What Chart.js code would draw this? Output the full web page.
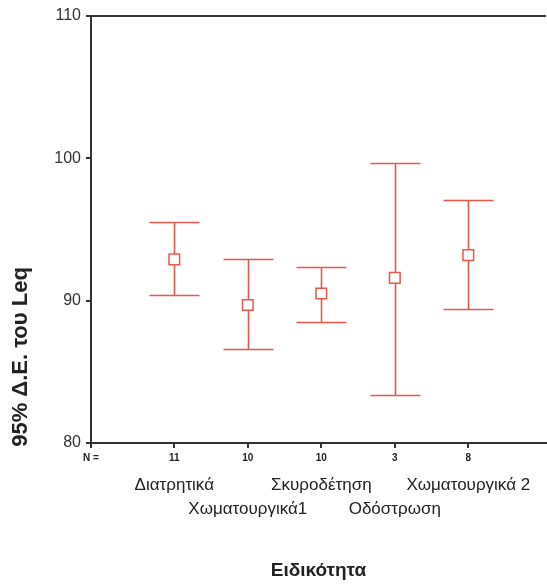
<!DOCTYPE html>
<html><head><meta charset="utf-8">
<script src="https://cdn.jsdelivr.net/npm/chart.js@4.4.1/dist/chart.umd.min.js"></script>
<style>html,body{margin:0;padding:0;background:#fff}canvas{display:block}</style>
</head><body>
<canvas id="c" width="547" height="584"></canvas>
<script>
const categories = ['Διατρητικά', 'Χωματουργικά1', 'Σκυροδέτηση', 'Οδόστρωση', 'Χωματουργικά 2'];
const nCounts = [11, 10, 10, 3, 8];
const means = [92.9, 89.7, 90.5, 91.6, 93.2];
const lower = [90.4, 86.6, 88.5, 83.4, 89.4];
const upper = [95.5, 92.9, 92.4, 99.7, 97.1];
const yTicks = [80, 90, 100, 110];
const yTitle = '95% Δ.Ε. του Leq';
const xTitle = 'Ειδικότητα';
const nLabel = 'N =';

const FONT = "'Liberation Sans', Arial, sans-serif";
const RED = '#e8594b';
const AXIS = '#333333';
const CAP = 25;

const errorBars = {
  id: 'errorBars',
  beforeDatasetsDraw(chart) {
    const { ctx, scales: { x, y } } = chart;
    ctx.save();
    ctx.strokeStyle = RED;
    ctx.lineWidth = 1.6;
    categories.forEach((c, i) => {
      const px = Math.round(x.getPixelForValue(i)) + 0.5;
      const pt = Math.round(y.getPixelForValue(upper[i])) + 0.5;
      const pb = Math.round(y.getPixelForValue(lower[i])) + 0.5;
      ctx.beginPath();
      ctx.moveTo(px, pt); ctx.lineTo(px, pb);
      ctx.moveTo(px - CAP, pt); ctx.lineTo(px + CAP, pt);
      ctx.moveTo(px - CAP, pb); ctx.lineTo(px + CAP, pb);
      ctx.stroke();
    });
    ctx.restore();
  }
};

const frame = {
  id: 'frame',
  afterDraw(chart) {
    const { ctx, chartArea: a } = chart;
    ctx.save();
    ctx.strokeStyle = AXIS;
    ctx.lineWidth = 2;
    ctx.beginPath();
    ctx.moveTo(a.left, a.top); ctx.lineTo(a.right, a.top);
    ctx.stroke();
    ctx.translate(21, 357);
    ctx.rotate(-Math.PI / 2);
    ctx.fillStyle = '#222';
    ctx.font = 'bold 22px ' + FONT;
    ctx.textAlign = 'center';
    ctx.textBaseline = 'middle';
    ctx.fillText(yTitle, 0, 0);
    ctx.restore();
  }
};

function noPad(s) { s.paddingLeft = 0; s.paddingRight = 0; }

new Chart(document.getElementById('c'), {
  type: 'scatter',
  data: {
    datasets: [{
      data: means.map((m, i) => ({ x: i, y: m })),
      pointStyle: 'rect',
      pointRadius: 7.5,
      pointHoverRadius: 7.5,
      pointBorderWidth: 1.5,
      borderColor: RED,
      backgroundColor: '#fff',
      showLine: false
    }]
  },
  options: {
    responsive: false,
    animation: false,
    events: [],
    layout: { autoPadding: false, padding: { top: 16, right: 1, left: 0, bottom: 0 } },
    plugins: { legend: { display: false }, tooltip: { enabled: false } },
    scales: {
      y: {
        min: 80, max: 110,
        afterFit(s) { s.width = 91; },
        afterBuildTicks(s) { s.ticks = yTicks.map(v => ({ value: v })); },
        ticks: { font: { family: FONT, size: 16 }, color: '#333', padding: 5 },
        grid: { drawOnChartArea: false, drawTicks: true, tickLength: 5, color: AXIS, lineWidth: 2 },
        border: { display: true, color: AXIS, width: 2 }
      },
      x: {
        type: 'linear', position: 'bottom', weight: 0,
        min: -1.133, max: 5.057,
        afterFit(s) { s.height = 20; noPad(s); },
        afterBuildTicks(s) { s.ticks = [{ value: s.min }].concat(categories.map((c, i) => ({ value: i }))); },
        ticks: {
          autoSkip: false, maxRotation: 0, padding: 4,
          font: { family: FONT, size: 10, weight: 'bold' }, color: '#222',
          callback(v) { return v < 0 ? nLabel : String(nCounts[Math.round(v)]); }
        },
        grid: { drawOnChartArea: false, drawTicks: true, tickLength: 5, color: AXIS, lineWidth: 2 },
        border: { display: true, color: AXIS, width: 2 }
      },
      x2: {
        type: 'linear', position: 'bottom', weight: 1,
        min: -1.133, max: 5.057,
        afterFit(s) { s.height = 121; noPad(s); },
        afterBuildTicks(s) { s.ticks = categories.map((c, i) => ({ value: i })); },
        ticks: {
          autoSkip: false, maxRotation: 0, padding: 2,
          font: { family: FONT, size: 17, lineHeight: '24px' }, color: '#222',
          callback(v) { const i = Math.round(v); return i % 2 === 0 ? [categories[i]] : ['', categories[i]]; }
        },
        grid: { display: false },
        border: { display: false },
        title: { display: true, text: xTitle, font: { family: FONT, size: 19, weight: 'bold' }, color: '#222', padding: { top: 0, bottom: 2 } }
      }
    }
  },
  plugins: [errorBars, frame]
});
</script>
</body></html>
